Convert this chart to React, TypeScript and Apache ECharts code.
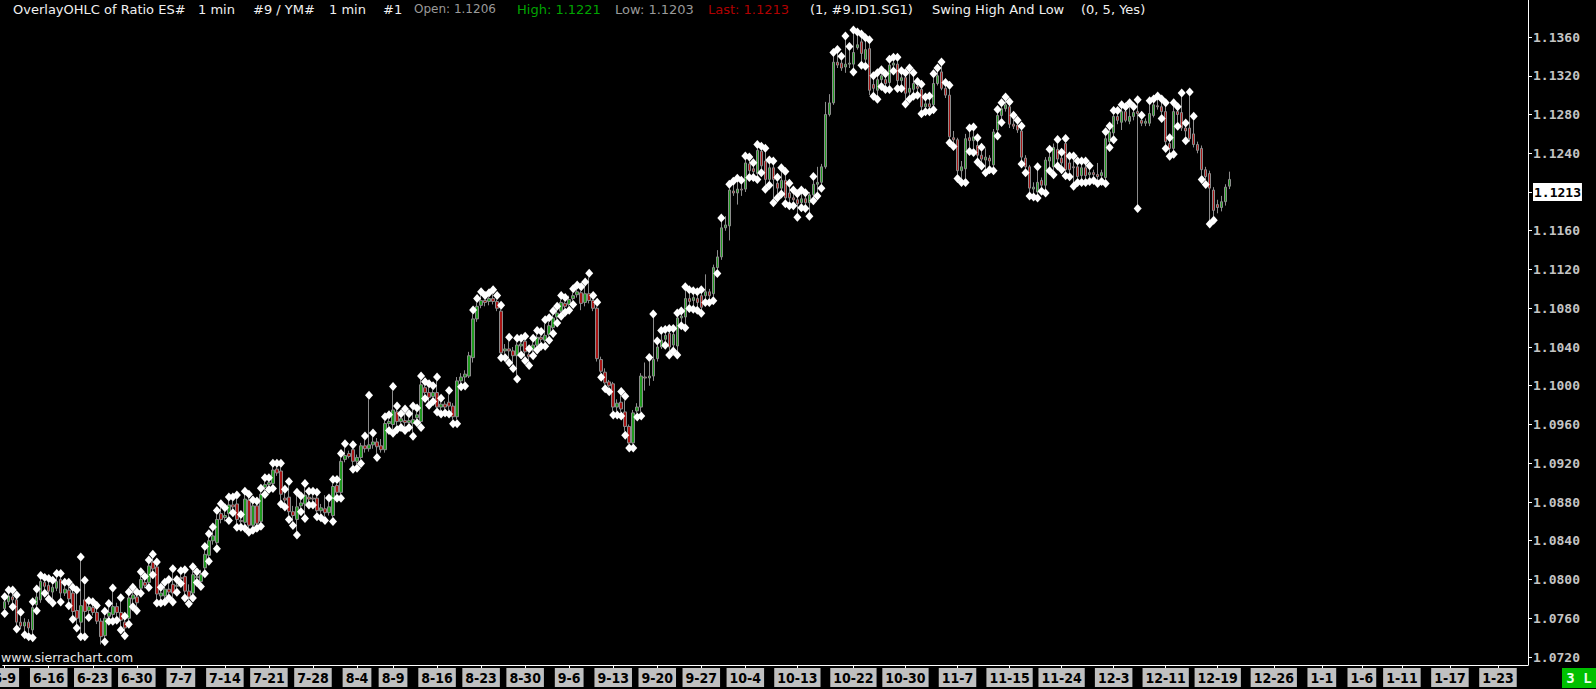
import React, { useEffect, useRef } from 'react';
import * as echarts from 'echarts';

// Each bar: [open, close, low, high, swingFlag]  (swingFlag: 1 = swing high, 2 = swing low, 3 = both)
const juneBars = [
  [1.0770, 1.0777, 1.0769, 1.0778, 3], [1.0777, 1.0783, 1.0774, 1.0785, 1], [1.0782, 1.0779, 1.0776, 1.0785, 3],
  [1.0779, 1.0756, 1.0753, 1.0780, 3], [1.0756, 1.0752, 1.0749, 1.0762, 1], [1.0752, 1.0756, 1.0747, 1.0760, 2],
  [1.0756, 1.0750, 1.0745, 1.0759, 2], [1.0748, 1.0771, 1.0744, 1.0773, 3], [1.0774, 1.0782, 1.0772, 1.0786, 3],
  [1.0779, 1.0798, 1.0776, 1.0800, 1], [1.0797, 1.0793, 1.0790, 1.0798, 3], [1.0794, 1.0788, 1.0784, 1.0797, 3],
  [1.0787, 1.0792, 1.0780, 1.0795, 3], [1.0791, 1.0798, 1.0788, 1.0802, 1], [1.0800, 1.0786, 1.0781, 1.0802, 3],
  [1.0786, 1.0790, 1.0783, 1.0793, 1], [1.0789, 1.0780, 1.0777, 1.0793, 3], [1.0786, 1.0767, 1.0763, 1.0788, 3],
  [1.0768, 1.0760, 1.0754, 1.0785, 3], [1.0756, 1.0773, 1.0745, 1.0819, 3], [1.0779, 1.0767, 1.0745, 1.0795, 3],
  [1.0768, 1.0772, 1.0765, 1.0774, 3], [1.0771, 1.0766, 1.0763, 1.0773, 1], [1.0766, 1.0757, 1.0754, 1.0769, 1],
  [1.0757, 1.0741, 1.0733, 1.0760, 0], [1.0742, 1.0760, 1.0740, 1.0763, 3], [1.0762, 1.0766, 1.0761, 1.0771, 3],
  [1.0764, 1.0772, 1.0761, 1.0787, 3], [1.0772, 1.0766, 1.0762, 1.0776, 2], [1.0766, 1.0758, 1.0752, 1.0777, 3],
  [1.0756, 1.0750, 1.0746, 1.0758, 3], [1.0760, 1.0781, 1.0758, 1.0783, 3], [1.0780, 1.0784, 1.0776, 1.0788, 3],
  [1.0782, 1.0776, 1.0772, 1.0783, 3], [1.0791, 1.0800, 1.0790, 1.0804, 3], [1.0797, 1.0794, 1.0791, 1.0799, 1],
  [1.0797, 1.0814, 1.0796, 1.0816, 3], [1.0818, 1.0811, 1.0809, 1.0822, 3], [1.0813, 1.0785, 1.0780, 1.0814, 3],
  [1.0783, 1.0786, 1.0780, 1.0788, 3], [1.0783, 1.0790, 1.0781, 1.0793, 3], [1.0790, 1.0787, 1.0785, 1.0796, 3],
  [1.0795, 1.0786, 1.0781, 1.0807, 3], [1.0793, 1.0794, 1.0791, 1.0796, 3],
];

const julyBars = [
  [1.0802, 1.0801, 1.0800, 1.0805, 3], [1.0803, 1.0788, 1.0785, 1.0806, 3], [1.0788, 1.0782, 1.0779, 1.0795, 2],
  [1.0786, 1.0805, 1.0785, 1.0809, 3], [1.0802, 1.0803, 1.0801, 1.0804, 3], [1.0798, 1.0805, 1.0797, 1.0810, 2],
  [1.0812, 1.0826, 1.0810, 1.0830, 3], [1.0825, 1.0840, 1.0823, 1.0843, 3], [1.0840, 1.0845, 1.0836, 1.0850, 1],
  [1.0838, 1.0862, 1.0836, 1.0867, 3], [1.0868, 1.0862, 1.0858, 1.0874, 1], [1.0864, 1.0866, 1.0860, 1.0870, 1],
  [1.0868, 1.0877, 1.0865, 1.0881, 3], [1.0877, 1.0875, 1.0873, 1.0881, 3], [1.0878, 1.0862, 1.0858, 1.0883, 3],
  [1.0861, 1.0860, 1.0858, 1.0863, 3], [1.0859, 1.0883, 1.0857, 1.0887, 3], [1.0882, 1.0856, 1.0853, 1.0884, 3],
  [1.0856, 1.0876, 1.0855, 1.0878, 3], [1.0876, 1.0858, 1.0857, 1.0877, 3], [1.0860, 1.0888, 1.0859, 1.0890, 3],
  [1.0895, 1.0898, 1.0892, 1.0901, 3], [1.0898, 1.0900, 1.0897, 1.0901, 3], [1.0899, 1.0913, 1.0898, 1.0916, 3],
  [1.0914, 1.0910, 1.0907, 1.0916, 1], [1.0912, 1.0888, 1.0882, 1.0916, 3], [1.0884, 1.0882, 1.0879, 1.0889, 3],
  [1.0885, 1.0870, 1.0866, 1.0897, 3], [1.0870, 1.0866, 1.0860, 1.0876, 2], [1.0862, 1.0875, 1.0850, 1.0886, 3],
  [1.0876, 1.0879, 1.0874, 1.0882, 3], [1.0878, 1.0887, 1.0867, 1.0895, 3], [1.0885, 1.0883, 1.0881, 1.0887, 3],
  [1.0884, 1.0883, 1.0881, 1.0887, 3], [1.0884, 1.0871, 1.0869, 1.0886, 3], [1.0871, 1.0874, 1.0868, 1.0878, 2],
  [1.0873, 1.0869, 1.0865, 1.0887, 2], [1.0869, 1.0875, 1.0866, 1.0880, 1], [1.0866, 1.0896, 1.0864, 1.0899, 3],
  [1.0897, 1.0890, 1.0888, 1.0899, 3], [1.0890, 1.0922, 1.0888, 1.0926, 3], [1.0924, 1.0928, 1.0921, 1.0936, 1],
  [1.0930, 1.0927, 1.0925, 1.0933, 0], [1.0934, 1.0922, 1.0918, 1.0935, 3], [1.0922, 1.0926, 1.0919, 1.0929, 2],
];

const augustBars = [
  [1.0926, 1.0938, 1.0924, 1.0941, 2], [1.0938, 1.0935, 1.0931, 1.0944, 1], [1.0935, 1.0939, 1.0932, 1.0986, 1],
  [1.0939, 1.0942, 1.0935, 1.0947, 1], [1.0942, 1.0937, 1.0930, 1.0946, 2], [1.0938, 1.0934, 1.0931, 1.0945, 0],
  [1.0934, 1.0961, 1.0931, 1.0964, 1], [1.0961, 1.0963, 1.0958, 1.0966, 3], [1.0960, 1.0975, 1.0955, 1.0995, 3],
  [1.0973, 1.0963, 1.0959, 1.0975, 3], [1.0963, 1.0966, 1.0961, 1.0967, 3], [1.0964, 1.0962, 1.0958, 1.0972, 3],
  [1.0962, 1.0964, 1.0961, 1.0967, 3], [1.0961, 1.0965, 1.0952, 1.0975, 3], [1.0967, 1.0970, 1.0966, 1.0973, 3],
  [1.0963, 1.1001, 1.0961, 1.1006, 3], [1.0998, 1.0993, 1.0991, 1.1000, 3], [1.0993, 1.0988, 1.0984, 1.0998, 3],
  [1.0989, 1.0993, 1.0988, 1.0996, 3], [1.0993, 1.0978, 1.0977, 1.1005, 3], [1.0978, 1.0981, 1.0975, 1.0983, 3],
  [1.0981, 1.0978, 1.0976, 1.0984, 2], [1.0983, 1.0979, 1.0975, 1.0991, 3], [1.0979, 1.0968, 1.0965, 1.0982, 2],
  [1.0968, 1.1005, 1.0965, 1.1009, 2], [1.1005, 1.1009, 1.1003, 1.1013, 2], [1.1009, 1.1012, 1.1004, 1.1016, 2],
  [1.1010, 1.1031, 1.1008, 1.1035, 0], [1.1029, 1.1069, 1.1024, 1.1074, 1], [1.1069, 1.1082, 1.1066, 1.1086, 1],
  [1.1083, 1.1088, 1.1080, 1.1093, 1], [1.1088, 1.1086, 1.1082, 1.1089, 1], [1.1087, 1.1090, 1.1083, 1.1092, 1],
  [1.1090, 1.1087, 1.1084, 1.1095, 1], [1.1087, 1.1080, 1.1077, 1.1089, 1], [1.1077, 1.1034, 1.1033, 1.1079, 3],
  [1.1036, 1.1038, 1.1033, 1.1043, 2], [1.1038, 1.1036, 1.1028, 1.1046, 3], [1.1036, 1.1031, 1.1022, 1.1040, 2],
  [1.1031, 1.1042, 1.1011, 1.1045, 3], [1.1041, 1.1043, 1.1036, 1.1045, 3], [1.1046, 1.1035, 1.1030, 1.1047, 3],
  [1.1032, 1.1030, 1.1025, 1.1034, 3], [1.1037, 1.1042, 1.1035, 1.1045, 3], [1.1042, 1.1050, 1.1041, 1.1053, 3],
  [1.1050, 1.1048, 1.1045, 1.1052, 3], [1.1047, 1.1052, 1.1045, 1.1064, 3], [1.1053, 1.1062, 1.1051, 1.1066, 3],
  [1.1060, 1.1070, 1.1058, 1.1073, 3], [1.1071, 1.1075, 1.1069, 1.1078, 3], [1.1077, 1.1086, 1.1076, 1.1089, 3],
  [1.1085, 1.1082, 1.1080, 1.1087, 3],
];

const septemberBars = [
  [1.1084, 1.1089, 1.1082, 1.1093, 2], [1.1090, 1.1093, 1.1088, 1.1096, 3], [1.1094, 1.1097, 1.1091, 1.1100, 1],
  [1.1096, 1.1085, 1.1078, 1.1098, 1], [1.1086, 1.1095, 1.1082, 1.1103, 1], [1.1095, 1.1088, 1.1085, 1.1112, 1],
  [1.1088, 1.1080, 1.1077, 1.1089, 1], [1.1080, 1.1028, 1.1025, 1.1082, 1], [1.1027, 1.1015, 1.1013, 1.1030, 2],
  [1.1014, 1.1003, 1.1001, 1.1018, 2], [1.1004, 1.1000, 1.0998, 1.1006, 2], [1.1002, 1.0978, 1.0974, 1.1004, 2],
  [1.0978, 1.0982, 1.0974, 1.0986, 2], [1.0983, 1.0976, 1.0973, 1.0990, 3], [1.0973, 1.0958, 1.0953, 1.0985, 3],
  [1.0958, 1.0941, 1.0940, 1.0960, 2], [1.0941, 1.0972, 1.0940, 1.0975, 2], [1.0974, 1.0978, 1.0972, 1.0982, 2],
  [1.0978, 1.1010, 1.0973, 1.1013, 2], [1.1009, 1.1008, 1.0995, 1.1024, 0], [1.1008, 1.1010, 1.1000, 1.1025, 1],
  [1.1010, 1.1027, 1.1005, 1.1070, 1], [1.1028, 1.1040, 1.1025, 1.1042, 1], [1.1040, 1.1047, 1.1038, 1.1053, 1],
  [1.1048, 1.1052, 1.1046, 1.1054, 3], [1.1054, 1.1040, 1.1036, 1.1055, 3], [1.1042, 1.1053, 1.1040, 1.1055, 3],
  [1.1041, 1.1070, 1.1036, 1.1071, 3], [1.1070, 1.1072, 1.1066, 1.1073, 3], [1.1071, 1.1090, 1.1064, 1.1098, 3],
  [1.1090, 1.1087, 1.1084, 1.1095, 3], [1.1088, 1.1091, 1.1083, 1.1094, 3], [1.1090, 1.1086, 1.1082, 1.1093, 3],
  [1.1093, 1.1081, 1.1079, 1.1095, 3], [1.1093, 1.1097, 1.1090, 1.1115, 2], [1.1097, 1.1093, 1.1090, 1.1100, 2],
  [1.1095, 1.1122, 1.1092, 1.1125, 2], [1.1122, 1.1133, 1.1120, 1.1140, 2], [1.1133, 1.1163, 1.1130, 1.1169, 1],
  [1.1163, 1.1166, 1.1160, 1.1175, 0], [1.1165, 1.1202, 1.1150, 1.1204, 1], [1.1201, 1.1199, 1.1196, 1.1207, 1],
  [1.1199, 1.1203, 1.1187, 1.1210, 1], [1.1203, 1.1202, 1.1196, 1.1208, 1],
];

const octoberBars = [
  [1.1203, 1.1230, 1.1200, 1.1233, 1], [1.1229, 1.1222, 1.1219, 1.1232, 3], [1.1224, 1.1221, 1.1219, 1.1226, 3],
  [1.1219, 1.1243, 1.1217, 1.1245, 3], [1.1242, 1.1227, 1.1224, 1.1243, 3], [1.1232, 1.1213, 1.1207, 1.1241, 3],
  [1.1213, 1.1225, 1.1211, 1.1229, 3], [1.1225, 1.1213, 1.1193, 1.1228, 3], [1.1209, 1.1204, 1.1198, 1.1211, 3],
  [1.1204, 1.1212, 1.1202, 1.1221, 3], [1.1212, 1.1194, 1.1192, 1.1217, 3], [1.1199, 1.1194, 1.1190, 1.1205, 3],
  [1.1194, 1.1192, 1.1190, 1.1198, 3], [1.1192, 1.1188, 1.1178, 1.1194, 3], [1.1189, 1.1193, 1.1188, 1.1198, 3],
  [1.1193, 1.1189, 1.1187, 1.1195, 3], [1.1189, 1.1197, 1.1179, 1.1200, 2], [1.1197, 1.1208, 1.1195, 1.1212, 3],
  [1.1208, 1.1210, 1.1200, 1.1226, 2], [1.1210, 1.1226, 1.1208, 1.1229, 2], [1.1226, 1.1280, 1.1224, 1.1293, 0],
  [1.1280, 1.1292, 1.1278, 1.1301, 0], [1.1292, 1.1334, 1.1290, 1.1340, 1], [1.1334, 1.1331, 1.1328, 1.1343, 1],
  [1.1333, 1.1328, 1.1325, 1.1336, 1], [1.1329, 1.1332, 1.1323, 1.1357, 1], [1.1332, 1.1333, 1.1328, 1.1346, 1],
  [1.1332, 1.1344, 1.1328, 1.1363, 3], [1.1349, 1.1352, 1.1347, 1.1361, 1], [1.1355, 1.1343, 1.1335, 1.1359, 3],
  [1.1337, 1.1347, 1.1334, 1.1355, 3], [1.1348, 1.1305, 1.1300, 1.1353, 1], [1.1311, 1.1307, 1.1303, 1.1316, 3],
  [1.1305, 1.1316, 1.1300, 1.1319, 3], [1.1316, 1.1320, 1.1313, 1.1322, 3], [1.1316, 1.1312, 1.1310, 1.1318, 3],
  [1.1313, 1.1331, 1.1310, 1.1333, 3], [1.1331, 1.1333, 1.1329, 1.1335, 3], [1.1332, 1.1315, 1.1311, 1.1335, 3],
  [1.1315, 1.1318, 1.1311, 1.1321, 3], [1.1318, 1.1302, 1.1295, 1.1319, 3], [1.1303, 1.1307, 1.1300, 1.1324, 3],
  [1.1306, 1.1312, 1.1303, 1.1319, 3], [1.1309, 1.1307, 1.1304, 1.1310, 3], [1.1306, 1.1288, 1.1285, 1.1307, 3],
  [1.1288, 1.1291, 1.1287, 1.1294, 3], [1.1291, 1.1288, 1.1287, 1.1295, 3], [1.1290, 1.1312, 1.1289, 1.1318, 3],
  [1.1312, 1.1320, 1.1310, 1.1324, 1], [1.1324, 1.1307, 1.1305, 1.1330, 1], [1.1307, 1.1300, 1.1297, 1.1309, 1],
  [1.1300, 1.1257, 1.1255, 1.1306, 3], [1.1256, 1.1254, 1.1251, 1.1263, 2],
];

const novemberBars = [
  [1.1254, 1.1222, 1.1218, 1.1256, 2], [1.1222, 1.1226, 1.1214, 1.1232, 2], [1.1224, 1.1255, 1.1214, 1.1260, 2],
  [1.1256, 1.1253, 1.1246, 1.1262, 3], [1.1253, 1.1257, 1.1245, 1.1263, 3], [1.1248, 1.1238, 1.1235, 1.1252, 3],
  [1.1238, 1.1234, 1.1231, 1.1242, 3], [1.1233, 1.1236, 1.1224, 1.1245, 2], [1.1235, 1.1232, 1.1227, 1.1238, 2],
  [1.1228, 1.1262, 1.1226, 1.1265, 2], [1.1264, 1.1279, 1.1262, 1.1281, 3], [1.1279, 1.1286, 1.1276, 1.1288, 3],
  [1.1286, 1.1290, 1.1283, 1.1294, 1], [1.1288, 1.1270, 1.1266, 1.1289, 1], [1.1270, 1.1268, 1.1265, 1.1275, 1],
  [1.1269, 1.1264, 1.1261, 1.1270, 1], [1.1263, 1.1236, 1.1233, 1.1264, 3], [1.1235, 1.1226, 1.1224, 1.1238, 2],
  [1.1226, 1.1204, 1.1200, 1.1228, 2], [1.1203, 1.1205, 1.1199, 1.1210, 2], [1.1200, 1.1210, 1.1198, 1.1222, 3],
  [1.1212, 1.1207, 1.1205, 1.1215, 2], [1.1207, 1.1233, 1.1203, 1.1236, 2], [1.1232, 1.1236, 1.1226, 1.1240, 3],
  [1.1226, 1.1246, 1.1222, 1.1250, 2], [1.1244, 1.1234, 1.1231, 1.1250, 3], [1.1235, 1.1230, 1.1227, 1.1237, 3],
  [1.1250, 1.1223, 1.1221, 1.1251, 3], [1.1230, 1.1223, 1.1220, 1.1233, 3], [1.1226, 1.1225, 1.1210, 1.1233, 3],
  [1.1226, 1.1216, 1.1214, 1.1228, 3], [1.1217, 1.1225, 1.1214, 1.1228, 3], [1.1225, 1.1217, 1.1214, 1.1228, 3],
  [1.1218, 1.1220, 1.1215, 1.1223, 3], [1.1220, 1.1218, 1.1216, 1.1223, 2], [1.1218, 1.1216, 1.1213, 1.1230, 2],
  [1.1217, 1.1220, 1.1215, 1.1223, 2], [1.1215, 1.1255, 1.1213, 1.1258, 3], [1.1252, 1.1262, 1.1250, 1.1264, 3],
];

const decemberBars = [
  [1.1261, 1.1278, 1.1258, 1.1280, 3], [1.1278, 1.1274, 1.1270, 1.1280, 1], [1.1272, 1.1283, 1.1264, 1.1286, 1],
  [1.1283, 1.1274, 1.1272, 1.1284, 1], [1.1273, 1.1278, 1.1270, 1.1288, 1], [1.1278, 1.1282, 1.1274, 1.1284, 1],
  [1.1283, 1.1281, 1.1187, 1.1291, 3], [1.1274, 1.1271, 1.1268, 1.1275, 1], [1.1271, 1.1273, 1.1268, 1.1276, 0],
  [1.1271, 1.1281, 1.1268, 1.1290, 1], [1.1279, 1.1290, 1.1277, 1.1292, 1], [1.1289, 1.1288, 1.1285, 1.1295, 1],
  [1.1288, 1.1283, 1.1280, 1.1292, 3], [1.1283, 1.1252, 1.1249, 1.1288, 3], [1.1250, 1.1245, 1.1241, 1.1252, 3],
  [1.1245, 1.1283, 1.1243, 1.1288, 3], [1.1283, 1.1280, 1.1272, 1.1284, 3], [1.1282, 1.1266, 1.1263, 1.1298, 1],
  [1.1266, 1.1263, 1.1257, 1.1267, 3], [1.1266, 1.1255, 1.1252, 1.1299, 1], [1.1260, 1.1249, 1.1246, 1.1274, 1],
  [1.1249, 1.1243, 1.1240, 1.1252, 0], [1.1245, 1.1223, 1.1217, 1.1248, 2], [1.1223, 1.1216, 1.1212, 1.1226, 2],
  [1.1219, 1.1204, 1.1171, 1.1222, 2], [1.1202, 1.1181, 1.1175, 1.1205, 2], [1.1187, 1.1184, 1.1178, 1.1192, 0],
  [1.1184, 1.1190, 1.1180, 1.1196, 0], [1.1190, 1.1205, 1.1186, 1.1208, 0], [1.1206, 1.1213, 1.1203, 1.1221, 0],
];

// Date labels on the time axis and the bar slot each one sits on
const dateLabels = ['6-9', '6-16', '6-23', '6-30', '7-7', '7-14', '7-21', '7-28', '8-4', '8-9', '8-16', '8-23', '8-30',
  '9-6', '9-13', '9-20', '9-27', '10-4', '10-13', '10-22', '10-30', '11-7', '11-15', '11-24', '12-3', '12-11', '12-19',
  '12-26', '1-1', '1-6', '1-11', '1-17', '1-23'];
const dateLabelSlots = [0, 11, 22, 33, 44, 55, 66, 77, 88, 97, 108, 119, 130, 141, 152, 163, 174, 185, 198, 212, 225,
  238, 251, 264, 277, 290, 303, 317, 329, 339, 349, 361, 373];
const totalSlots = 381;

// Price axis
const priceMin = 1.068;
const priceMax = 1.14;
const priceStep = 0.004;

export default function App() {
  const ref = useRef<HTMLDivElement>(null);

  useEffect(() => {
    if (!ref.current) return;
    const chart = echarts.init(ref.current, null, { renderer: 'svg' });

    const bars = [...juneBars, ...julyBars, ...augustBars, ...septemberBars, ...octoberBars, ...novemberBars, ...decemberBars];
    const categories = Array.from({ length: totalSlots }, (_, i) => String(i));
    const labelMap: Record<number, string> = {};
    dateLabelSlots.forEach((s, k) => { labelMap[s] = dateLabels[k]; });
    const isLabel = (index: number) => labelMap[index] !== undefined;

    const ohlc = bars.map((b) => [b[0], b[1], b[2], b[3]]);
    const highs = bars.map((b, i) => ((b[4] & 1) ? [i, b[3]] : null)).filter(Boolean);
    const lows = bars.map((b, i) => ((b[4] & 2) ? [i, b[2]] : null)).filter(Boolean);
    const last = bars[bars.length - 1];
    const f4 = (v: number) => v.toFixed(4);

    const mono = 'DejaVu Sans Mono';
    const sans = 'DejaVu Sans';
    const narrow = '"Liberation Sans Narrow", "DejaVu Sans Condensed", "DejaVu Sans", sans-serif';

    const headerParts = [
      { text: 'OverlayOHLC of Ratio ES#', x: 13, color: '#f0f0f0', size: 13 },
      { text: '1 min', x: 198, color: '#f0f0f0', size: 13 },
      { text: '#9 / YM#', x: 253, color: '#f0f0f0', size: 13 },
      { text: '1 min', x: 329, color: '#f0f0f0', size: 13 },
      { text: '#1', x: 383, color: '#f0f0f0', size: 13 },
      { text: 'Open: ' + f4(last[0]), x: 414, color: '#9a9a9a', size: 12 },
      { text: 'High: ' + f4(last[3]), x: 517, color: '#00a400', size: 13 },
      { text: 'Low: ' + f4(last[2]), x: 615, color: '#9a9a9a', size: 13 },
      { text: 'Last: ' + f4(last[1]), x: 708, color: '#b00000', size: 13 },
      { text: '(1, #9.ID1.SG1)', x: 810, color: '#f0f0f0', size: 13 },
      { text: 'Swing High And Low', x: 932, color: '#f0f0f0', size: 13 },
      { text: '(0, 5, Yes)', x: 1081, color: '#f0f0f0', size: 13 },
    ];

    const option: any = {
      animation: false,
      backgroundColor: '#000000',
      grid: [
        { left: 2.7, right: 68, top: -1.75, bottom: -6.75, containLabel: false, outerBoundsMode: 'none' },
        { left: 2.7, right: 68, top: 0, bottom: 24, containLabel: false, outerBoundsMode: 'none' },
      ],
      xAxis: [
        { type: 'category', gridIndex: 0, data: categories, boundaryGap: true, show: false },
        {
          type: 'category', gridIndex: 1, data: categories, boundaryGap: true,
          axisLine: { show: true, lineStyle: { color: '#ffffff', width: 1 } },
          axisTick: { show: true, interval: (i: number) => isLabel(i), alignWithLabel: true, length: 3, lineStyle: { color: '#ffffff' } },
          axisLabel: {
            show: true, interval: (i: number) => isLabel(i), formatter: (_v: string, i: number) => labelMap[i] || '',
            color: '#000000', backgroundColor: '#c0c0c0', fontFamily: narrow, fontWeight: 'bold',
            fontSize: 14, lineHeight: 16, padding: [2, 3, 1, 3], margin: 3,
            alignMinLabel: 'center', alignMaxLabel: 'center',
          },
          splitLine: { show: false },
        },
      ],
      yAxis: [
        {
          type: 'value', gridIndex: 0, position: 'right', min: priceMin, max: priceMax, interval: priceStep,
          axisLine: { show: false },
          axisTick: { show: true, length: 4, lineStyle: { color: '#ffffff' } },
          axisLabel: {
            show: true, color: '#c4c4c4', fontFamily: mono, fontWeight: 'bold', fontSize: 13, margin: 5,
            formatter: (v: number) => f4(v), showMinLabel: false, showMaxLabel: false,
          },
          splitLine: { show: false },
        },
        {
          type: 'value', gridIndex: 1, position: 'right', min: 0, max: 1,
          axisLine: { show: true, lineStyle: { color: '#ffffff', width: 1 } },
          axisTick: { show: false }, axisLabel: { show: false }, splitLine: { show: false },
        },
      ],
      series: [
        {
          type: 'candlestick', xAxisIndex: 0, yAxisIndex: 0, data: ohlc, barWidth: 3,
          itemStyle: { color: '#1f9a1f', color0: '#a81414', borderColor: '#8c8c8c', borderColor0: '#8c8c8c', borderWidth: 1 },
          markLine: {
            silent: true, symbol: ['none', 'none'], animation: false,
            lineStyle: { color: 'rgba(0,0,0,0)', width: 0, type: 'solid' },
            label: {
              show: true, position: 'end', distance: 5, formatter: () => f4(last[1]),
              backgroundColor: '#ffffff', color: '#000000', fontFamily: mono, fontWeight: 'bold', fontSize: 13,
              padding: [3, 1, 2, 1],
            },
            data: [{ yAxis: last[1] }],
          },
        },
        {
          type: 'scatter', xAxisIndex: 0, yAxisIndex: 0, data: highs, symbol: 'diamond', symbolSize: [8, 9],
          symbolOffset: [0, -4], itemStyle: { color: '#ffffff', opacity: 1 }, z: 5,
        },
        {
          type: 'scatter', xAxisIndex: 0, yAxisIndex: 0, data: lows, symbol: 'diamond', symbolSize: [8, 9],
          symbolOffset: [0, 4], itemStyle: { color: '#ffffff', opacity: 1 }, z: 5,
        },
      ],
      graphic: [
        ...headerParts.map((p) => ({
          type: 'text', left: p.x, top: 3, z: 10,
          style: { text: p.text, fill: p.color, font: `${p.size}px "${sans}"` },
        })),
        {
          type: 'text', left: 1, top: 651, z: 10,
          style: { text: 'www.sierrachart.com', fill: '#e8e8e8', font: '12.5px "DejaVu Sans"' },
        },
        {
          type: 'group', left: 1562, top: 668, z: 10,
          children: [
            { type: 'rect', shape: { x: 0, y: 0, width: 34, height: 20 }, style: { fill: '#00c000' } },
            { type: 'text', x: 17, y: 10, style: { text: '3 L', fill: '#e8ffe8', font: 'bold 14px "DejaVu Sans Mono"', align: 'center', verticalAlign: 'middle' } },
          ],
        },
      ],
    };

    chart.setOption(option);
    return () => chart.dispose();
  }, []);

  return <div ref={ref} style={{ position: 'absolute', left: 0, top: 0, width: 1596, height: 689 }} />;
}
